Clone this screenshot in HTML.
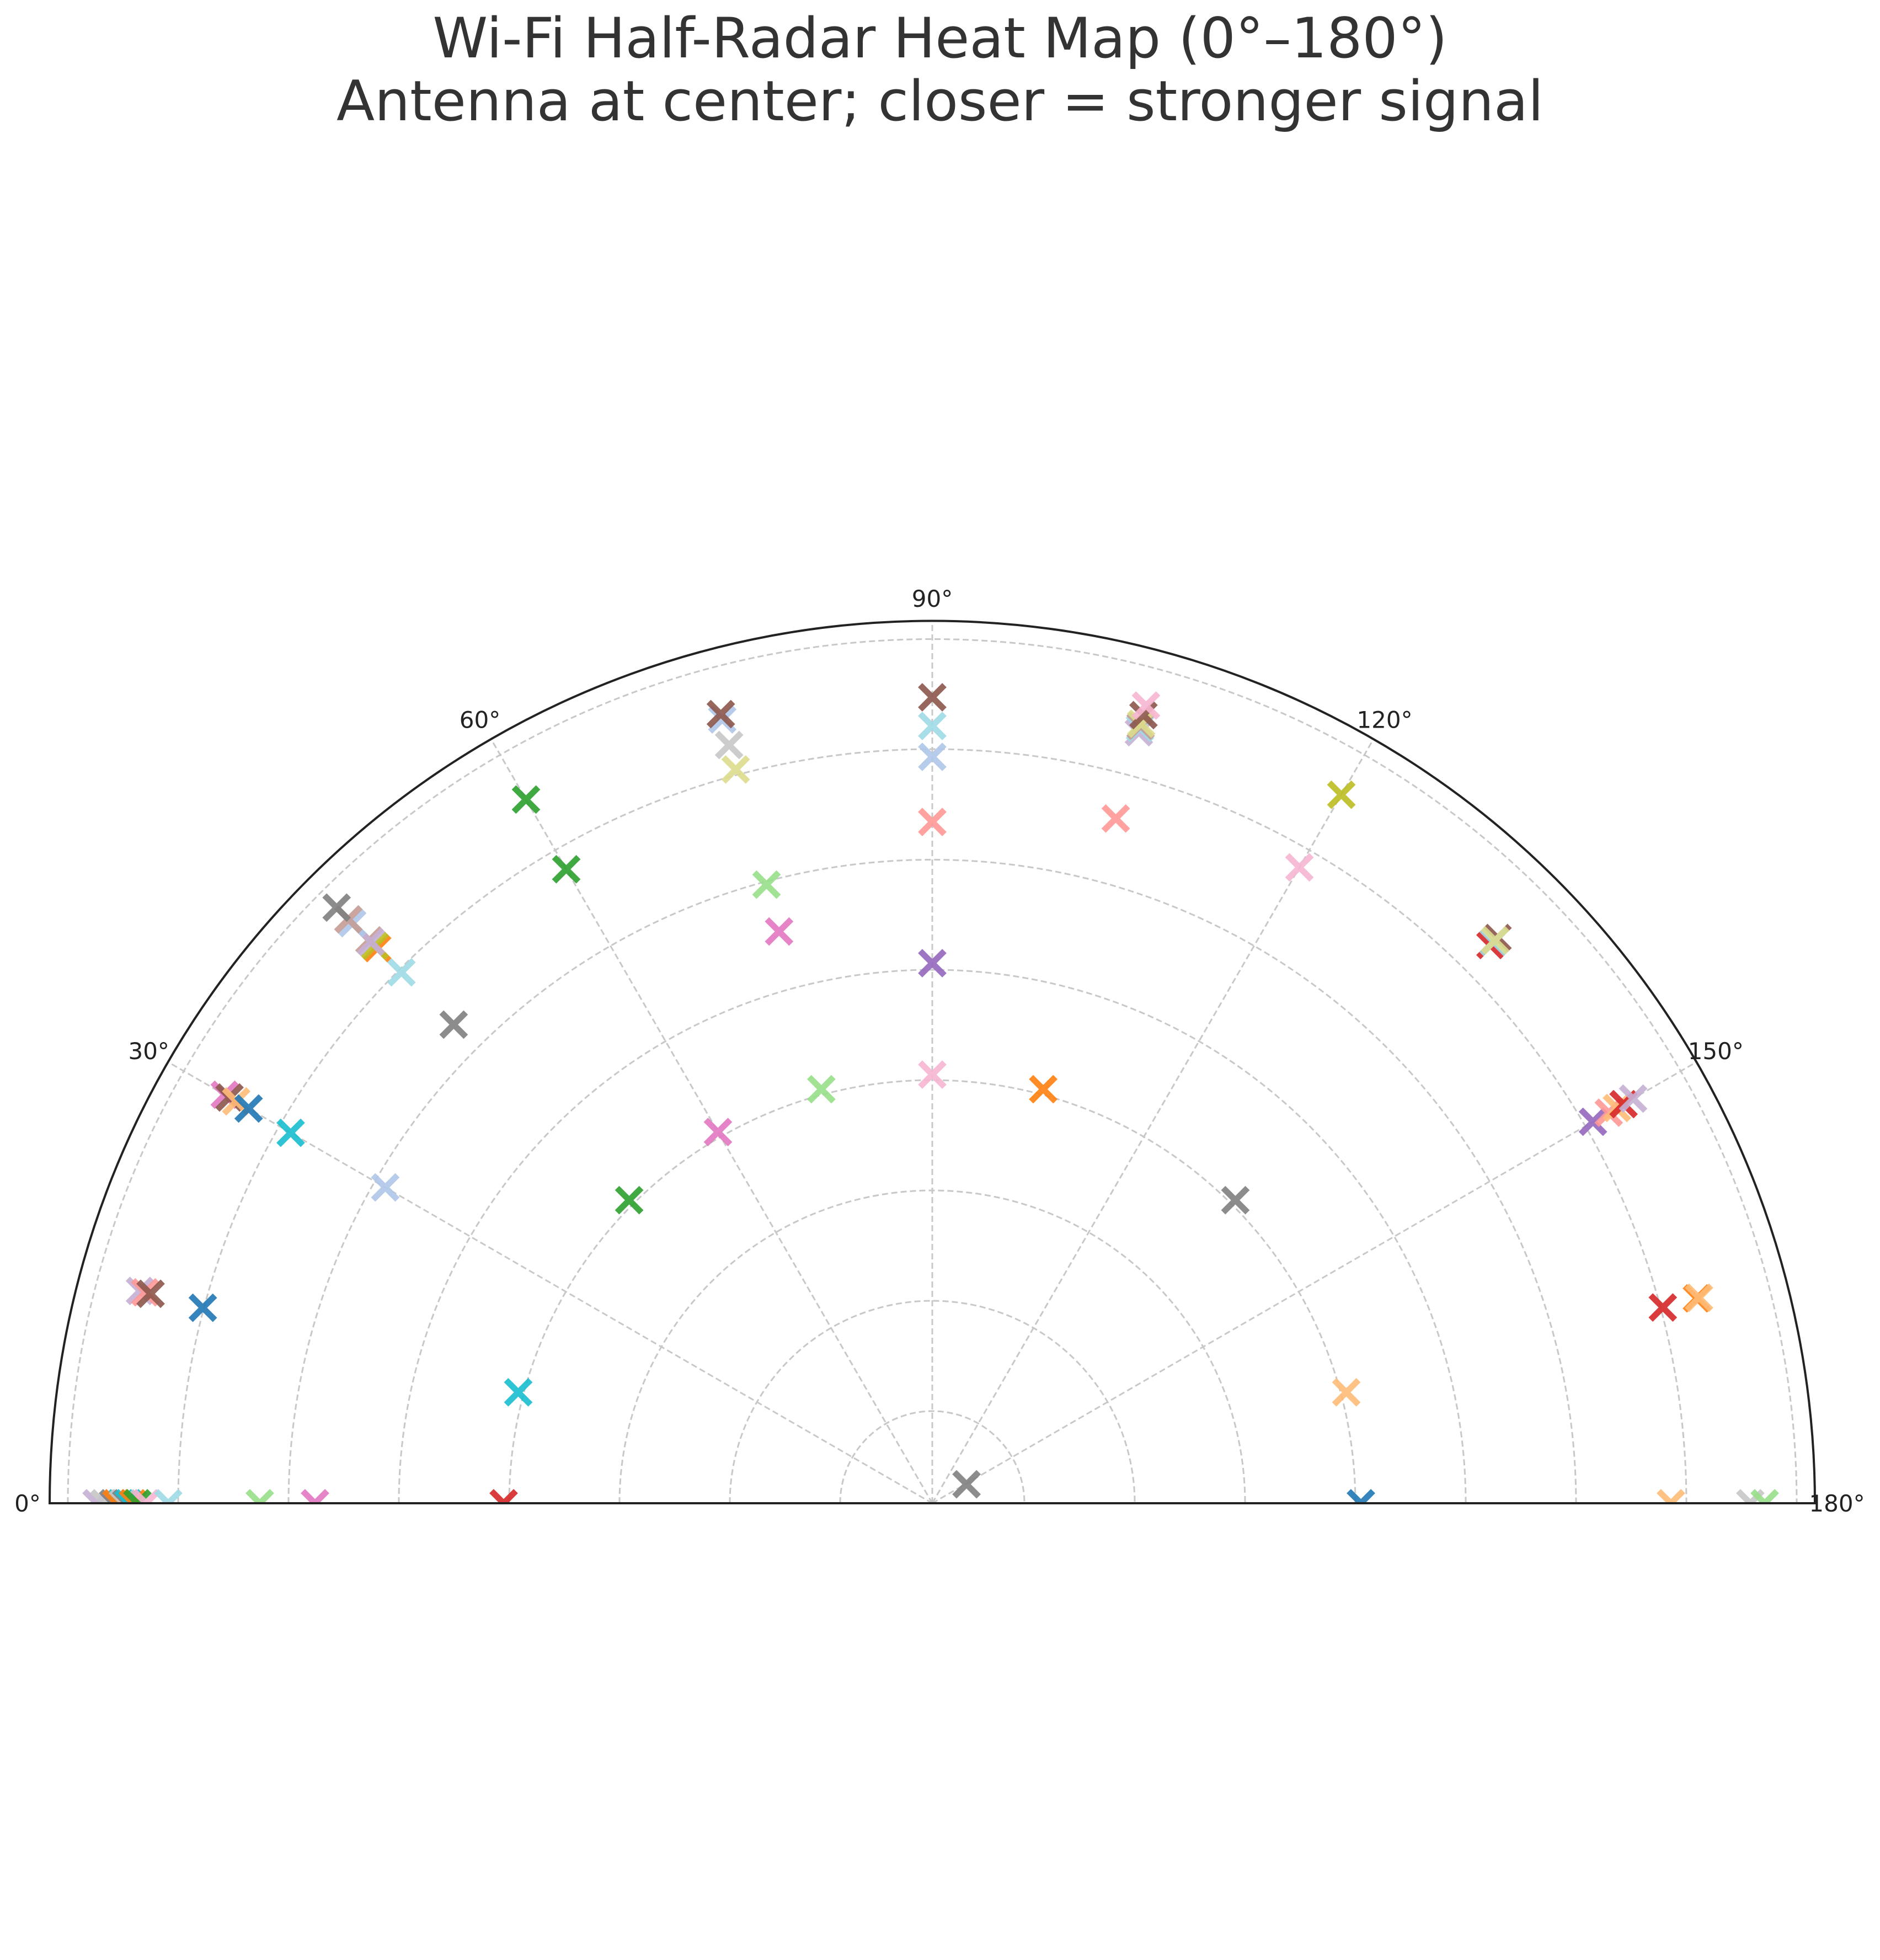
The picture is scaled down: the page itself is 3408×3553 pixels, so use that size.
<!DOCTYPE html>
<html><head><meta charset="utf-8"><style>
html,body{margin:0;padding:0;background:#fff;}
svg{display:block;font-family:"DejaVu Sans","Liberation Sans",sans-serif;}
</style></head><body>
<svg id="chart" width="3408" height="3553" viewBox="0 0 3408 3553" xmlns="http://www.w3.org/2000/svg">
<rect width="3408" height="3553" fill="#fff"/>
<text x="1704" y="104" text-anchor="middle" font-size="101" fill="#333">Wi-Fi Half-Radar Heat Map (0°–180°)</text>
<text x="1704" y="218" text-anchor="middle" font-size="101" fill="#333">Antenna at center; closer = stronger signal</text>
<defs><clipPath id="half"><path d="M90,2725 A1600,1600 0 0 1 3290,2725 Z"/></clipPath></defs>
<g id="grid"></g>
<g id="marks" clip-path="url(#half)"></g>
<path d="M90,2725 A1600,1600 0 0 1 3290,2725 Z" fill="none" stroke="#222" stroke-width="4"/>
<g id="labels"></g>
</svg>
<script>
const angles = [151,180,165,135,105,90,75,60,45,15,0,
 90,75,75,90,105,120,120,90,90,90,75,75,75,75,
 105,105,105,105,105,105,60,60,45,45,
 45,45,45,45,45,45,45,
 30,30,30,30,30,30,
 15,15,15,15,
 0,0,0,0,0,0,0,0,0,0,0,0,0,0,
 135,135,135,135,
 150,150,150,150,150,
 165,165,165,180,180,180];
const distances = [0.52,4.05,4.05,4.05,4.05,4.05,4.05,4.05,4.05,4.05,4.05,
 5.06,5.53,5.97,6.34,6.59,6.82,7.58,6.93,7.21,7.47,7.05,7.28,7.52,7.57,
 7.4,7.44,7.46,7.48,7.56,7.65,6.8,7.53,6.3,6.97,
 7.28,7.31,7.38,7.36,7.6,7.65,7.8,
 5.89,6.88,7.57,7.52,7.45,7.32,
 7.01,7.6,7.55,7.5,
 7.74,7.67,7.59,7.52,7.56,7.5,7.47,7.45,7.41,7.37,7.29,7.09,6.26,5.76,
 7.41,7.32,7.36,7.38,
 7.08,7.245,7.33,7.4,7.5,
 7.02,7.34,7.36,6.86,7.58,7.71];
const colorIdx = [14,0,3,14,2,13,5,12,4,18,6,
 8,12,5,7,7,13,16,1,19,10,17,15,1,10,
 9,19,11,17,10,13,4,4,14,19,
 2,16,11,9,1,11,14,
 1,18,12,10,3,0,
 0,9,7,10,
 9,15,14,18,2,15,14,18,2,4,13,19,5,12,
 10,6,19,17,
 8,7,3,6,9,
 6,2,3,3,15,5];
const palette = ["#1f77b4","#aec7e8","#ff7f0e","#ffbb78","#2ca02c","#98df8a","#d62728","#ff9896","#9467bd","#c5b0d5","#8c564b","#c49c94","#e377c2","#f7b6d2","#7f7f7f","#c7c7c7","#bcbd22","#dbdb8d","#17becf","#9edae5"];
const gridRadii = [1,2,3,4,5,6,7,8];
const angleTicks = [0,30,60,90,120,150,180];
const tickLabels = ["0°","30°","60°","90°","120°","150°","180°"];

const NS = "http://www.w3.org/2000/svg";
const CX = 1690, CY = 2725, R = 1600, RMIN = 0.165, RMAX = 8.165;
function rScale(r){ return (r - RMIN) / (RMAX - RMIN) * R; }
function px(theta, r){ const a = theta*Math.PI/180, d = rScale(r); return [CX - d*Math.cos(a), CY - d*Math.sin(a)]; }
function mk(tag, attrs){ const e = document.createElementNS(NS, tag); for (const k in attrs) e.setAttribute(k, attrs[k]); return e; }

const grid = document.getElementById('grid');
gridRadii.forEach(g => {
  const d = rScale(g);
  const c = mk('path', {d:`M${CX-d},${CY} A${d},${d} 0 0 1 ${CX+d},${CY}`, fill:'none', stroke:'#c8c8c8', 'stroke-width':3, 'stroke-dasharray':'11 6'});
  
  
  grid.appendChild(c);
});
angleTicks.forEach(t => {
  const [x, y] = px(t, RMAX);
  const l = mk('line', {x1:CX, y1:CY, x2:x, y2:y, stroke:'#c8c8c8', 'stroke-width':3, 'stroke-dasharray':'11 6'});
  
  
  grid.appendChild(l);
});
const labels = document.getElementById('labels');
angleTicks.forEach((t, i) => {
  const a = t*Math.PI/180, d = 1640;
  const tx = mk('text', {x:CX - d*Math.cos(a), y:CY - d*Math.sin(a) + 15, 'text-anchor':'middle', 'font-size':42, fill:'#222'});
  tx.textContent = tickLabels[i];
  
  
  labels.appendChild(tx);
});
const marks = document.getElementById('marks');
const h = 22;
angles.forEach((t, i) => {
  const [x, y] = px(t, distances[i]);
  const p = mk('path', {d:`M${x-h},${y-h}L${x+h},${y+h}M${x-h},${y+h}L${x+h},${y-h}`, stroke:palette[colorIdx[i]], 'stroke-width':11, fill:'none', opacity:0.9});
  
  
  marks.appendChild(p);
});
</script>
</body></html>
